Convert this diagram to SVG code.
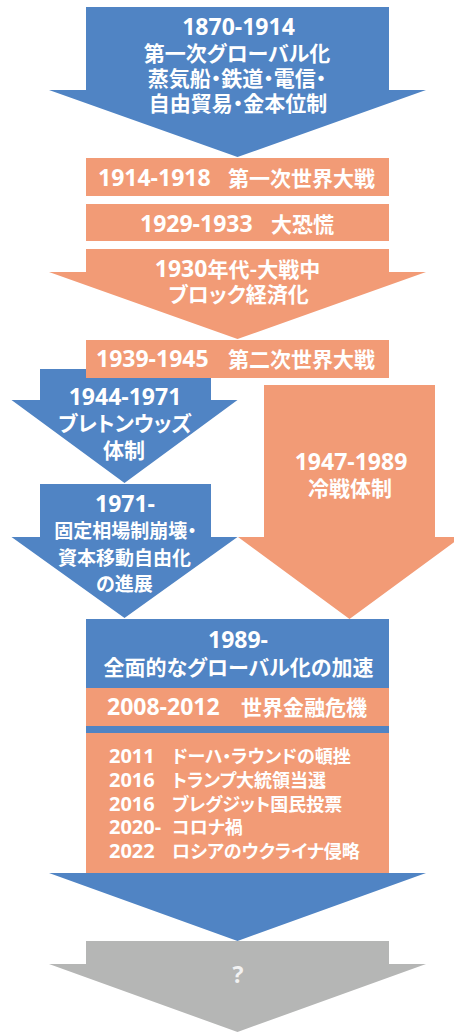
<svg xmlns="http://www.w3.org/2000/svg" width="454" height="1032" viewBox="0 0 454 1032">
<style>
.blue{fill:#5084C4}
.orange{fill:#F29B76}
.gray{fill:#B5B6B5}
text{fill:#FFFFFF}
.jp{font-family:"Noto Sans CJK JP","Noto Sans",sans-serif;font-size:21px;font-weight:600;font-feature-settings:"palt"}
.jps{font-family:"Noto Sans CJK JP","Noto Sans",sans-serif;font-size:19px;font-weight:600;font-feature-settings:"palt"}
.jpl{font-family:"Noto Sans CJK JP","Noto Sans",sans-serif;font-size:18px;font-weight:600;font-feature-settings:"palt"}
.num{font-family:"Open Sans","Liberation Sans",sans-serif;font-size:23px;font-weight:bold}
.numl{font-family:"Open Sans","Liberation Sans",sans-serif;font-size:20px;font-weight:bold}
.c{text-anchor:middle}
.q{fill:#F2F2F2}
</style>
<g id="connectors"/>
<g id="n1870">
<polygon class="blue" points="86,7 389,7 389,90 426,90 237.5,157 49,90 86,90"/>
<text class="num c" x="238.5" y="35">1870-1914</text>
<text class="jp c" x="237" y="61">第一次グローバル化</text>
<text class="jp c" x="237" y="86">蒸気船・鉄道・電信・</text>
<text class="jp c" x="238" y="111">自由貿易・金本位制</text>
</g>
<g id="n1914">
<rect class="orange" x="86" y="158" width="303" height="38"/>
<text class="num" x="98" y="186">1914-1918</text>
<text class="jp" x="228" y="186">第一次世界大戦</text>
</g>
<g id="n1929">
<rect class="orange" x="86" y="204" width="303" height="37"/>
<text class="num" x="140" y="232">1929-1933</text>
<text class="jp" x="271" y="232">大恐慌</text>
</g>
<g id="n1930">
<polygon class="orange" points="86,249 389,249 389,272 426,272 237.5,339 49,272 86,272"/>
<text class="jp c" x="237.5" y="277"><tspan class="num">1930</tspan>年代-大戦中</text>
<text class="jp c" x="238.5" y="302">ブロック経済化</text>
</g>
<g id="n1944">
<polygon class="blue" points="40,369 211,369 211,400 237.5,400 124.5,483 11.5,400 40,400"/>
<text class="num c" x="125" y="405">1944-1971</text>
<text class="jp c" x="125" y="431">ブレトンウッズ</text>
<text class="jp c" x="124" y="458">体制</text>
</g>
<g id="n1939">
<rect class="orange" x="86" y="340" width="303" height="38"/>
<text class="num" x="96" y="367">1939-1945</text>
<text class="jp" x="228" y="367">第二次世界大戦</text>
</g>
<g id="n1947">
<polygon class="orange" points="264,385 435,385 435,537 461,537 349.5,619 238,537 264,537"/>
<text class="num c" x="351" y="470">1947-1989</text>
<text class="jp c" x="350" y="496">冷戦体制</text>
</g>
<g id="n1971">
<polygon class="blue" points="40,484 211,484 211,537 237.5,537 124.5,618 11.5,537 40,537"/>
<text class="num c" x="125" y="512">1971-</text>
<text class="jps c" x="125.5" y="538">固定相場制崩壊・</text>
<text class="jps c" x="124.5" y="565">資本移動自由化</text>
<text class="jps c" x="124.5" y="591">の進展</text>
</g>
<g id="n1989">
<polygon class="blue" points="86,619 389,619 389,873 426,873 237.5,941 49,873 86,873"/>
<text class="num c" x="238" y="648">1989-</text>
<text class="jp c" x="238.5" y="675">全面的なグローバル化の加速</text>
</g>
<g id="n2008">
<rect class="orange" x="86" y="688" width="303" height="38"/>
<text class="num" x="107" y="715">2008-2012</text>
<text class="jp" x="241" y="715">世界金融危機</text>
</g>
<g id="events">
<rect class="orange" x="86" y="733" width="303" height="140"/>
<text class="numl" x="109" y="763">2011</text>
<text class="jpl" x="172" y="763">ドーハ・ラウンドの頓挫</text>
<text class="numl" x="109" y="787">2016</text>
<text class="jpl" x="172" y="787">トランプ大統領当選</text>
<text class="numl" x="109" y="811">2016</text>
<text class="jpl" x="172" y="811">ブレグジット国民投票</text>
<text class="numl" x="109" y="834">2020-</text>
<text class="jpl" x="172" y="834">コロナ禍</text>
<text class="numl" x="109" y="858">2022</text>
<text class="jpl" x="172" y="858">ロシアのウクライナ侵略</text>
</g>
<g id="future">
<polygon class="gray" points="86,941 389,941 389,964 426,964 237.5,1032 49,964 86,964"/>
<text class="num c q" x="238" y="983">?</text>
</g>
</svg>
